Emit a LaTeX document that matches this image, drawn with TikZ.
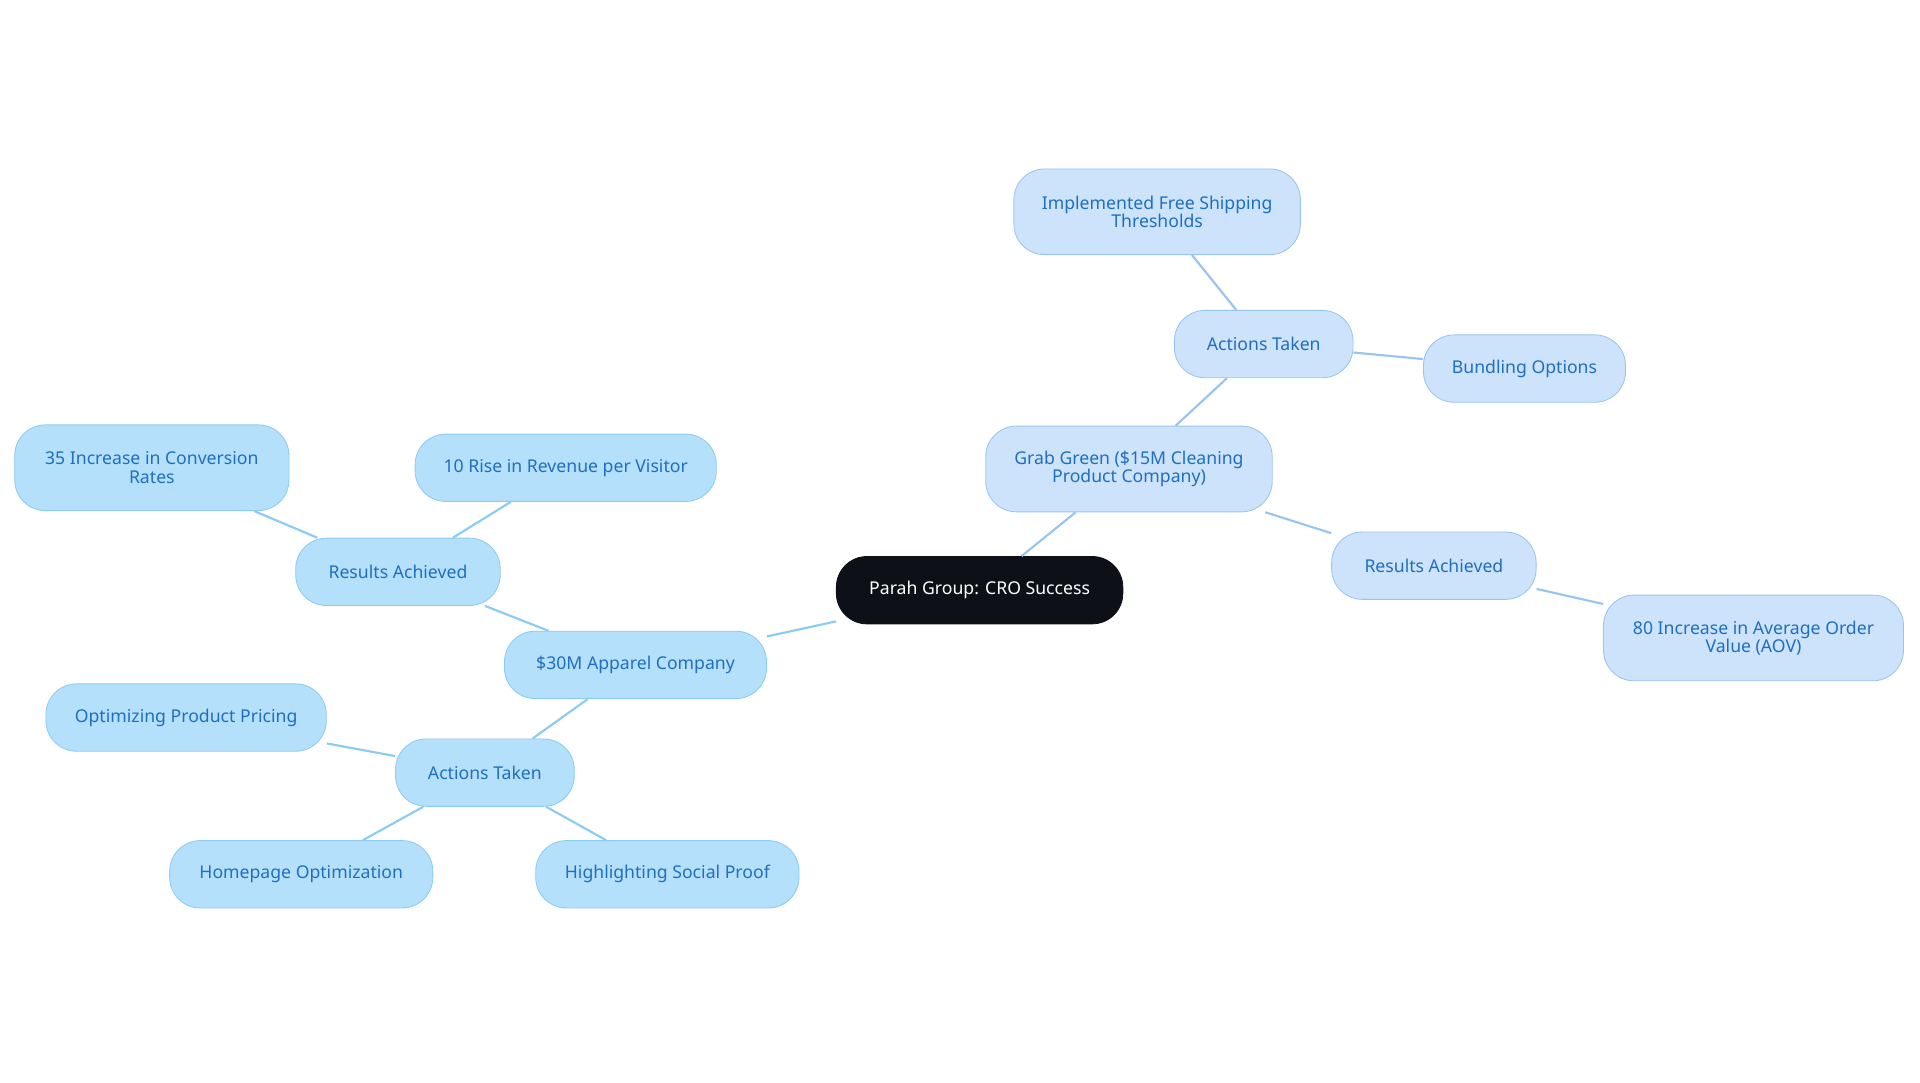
\documentclass[tikz,border=0pt]{standalone}
\usepackage{fontspec}
\setmainfont{Noto Sans}
\definecolor{rootfill}{HTML}{0D1117}
\definecolor{leftfill}{HTML}{B5E0FC}
\definecolor{leftline}{HTML}{8CCBF2}
\definecolor{rightfill}{HTML}{CDE3FB}
\definecolor{rightline}{HTML}{9AC4F0}
\definecolor{txtblue}{HTML}{1F6FC0}
\tikzset{
  leaf/.style={rectangle, rounded corners=0.5cm, draw=leftline, fill=leftfill, text=txtblue,
    font=\fontsize{8.2}{8.6}\selectfont, align=center, minimum height=1.1cm, inner xsep=8pt},
  leafr/.style={leaf, draw=rightline, fill=rightfill},
  linkl/.style={draw=leftline, line width=1pt},
  linkr/.style={draw=rightline, line width=1pt}
}
\begin{document}
\begin{tikzpicture}[x=0.02cm,y=-0.02cm]
    \useasboundingbox (0,0) rectangle (1568,884);
    \node[leaf, fill=rootfill, draw=rootfill, text=white, minimum width=4.68cm] (root) at (800,482) {Parah Group: CRO Success};

    % left branch
    \node[leaf, minimum width=4.28cm] (apparel) at (519,543) {\$30M Apparel Company};
    \node[leaf, minimum width=3.34cm] (resl) at (325,467) {Results Achieved};
    \node[leaf, minimum width=4.48cm, minimum height=1.4cm] (conv) at (124,382) {35 Increase in Conversion\\Rates};
    \node[leaf, minimum width=4.92cm] (rev) at (462,382) {10 Rise in Revenue per Visitor};
    \node[leaf, minimum width=2.92cm] (actl) at (396,631) {Actions Taken};
    \node[leaf, minimum width=4.58cm] (pricing) at (152,586) {Optimizing Product Pricing};
    \node[leaf, minimum width=4.3cm] (home) at (246,714) {Homepage Optimization};
    \node[leaf, minimum width=4.3cm] (social) at (545,714) {Highlighting Social Proof};

    % right branch
    \node[leafr, minimum width=4.68cm, minimum height=1.4cm] (grab) at (922,383) {Grab Green (\$15M Cleaning\\Product Company)};
    \node[leafr, minimum width=2.92cm] (actr) at (1032,281) {Actions Taken};
    \node[leafr, minimum width=4.68cm, minimum height=1.4cm] (ship) at (945,173) {Implemented Free Shipping\\Thresholds};
    \node[leafr, minimum width=3.3cm] (bundle) at (1245,301) {Bundling Options};
    \node[leafr, minimum width=3.34cm] (resr) at (1171,462) {Results Achieved};
    \node[leafr, minimum width=4.9cm, minimum height=1.4cm] (aov) at (1432,521) {80 Increase in Average Order\\Value (AOV)};

    \begin{scope}[on background layer/.style={}]
    \draw[linkl] (root) -- (apparel);
    \draw[linkl] (apparel) -- (resl);
    \draw[linkl] (resl) -- (conv);
    \draw[linkl] (resl) -- (rev);
    \draw[linkl] (apparel) -- (actl);
    \draw[linkl] (actl) -- (pricing);
    \draw[linkl] (actl) -- (home);
    \draw[linkl] (actl) -- (social);

    \draw[linkr] (root) -- (grab);
    \draw[linkr] (grab) -- (actr);
    \draw[linkr] (actr) -- (ship);
    \draw[linkr] (actr) -- (bundle);
    \draw[linkr] (grab) -- (resr);
    \draw[linkr] (resr) -- (aov);
    \end{scope}
\end{tikzpicture}
\end{document}
